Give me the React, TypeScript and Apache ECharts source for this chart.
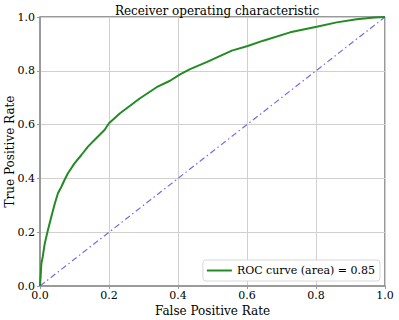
import React, { useEffect, useRef } from "react";
import * as echarts from "echarts";

const fpr = [0, 0.002, 0.004, 0.008, 0.013, 0.015, 0.023, 0.033, 0.043, 0.052, 0.062, 0.071, 0.081, 0.1, 0.12, 0.139, 0.163, 0.187, 0.2, 0.232, 0.29, 0.338, 0.377, 0.406, 0.435, 0.483, 0.556, 0.602, 0.647, 0.725, 0.802, 0.86, 0.918, 0.97, 1.0];
const tpr = [0, 0.04, 0.084, 0.109, 0.152, 0.165, 0.208, 0.258, 0.307, 0.345, 0.369, 0.394, 0.419, 0.456, 0.487, 0.518, 0.549, 0.58, 0.605, 0.642, 0.698, 0.739, 0.763, 0.787, 0.806, 0.832, 0.875, 0.892, 0.912, 0.943, 0.964, 0.98, 0.992, 0.998, 1.0];
const diagonal = [[0, 0], [1, 1]];
const legendLabel = "ROC curve (area) = 0.85";
const titleText = "Receiver operating characteristic";
const xName = "False Positive Rate";
const yName = "True Positive Rate";

const FONT = "DejaVu Serif";

export default function App() {
  const ref = useRef<HTMLDivElement>(null);
  useEffect(() => {
    const chart = echarts.init(ref.current!, null, { renderer: "svg" });
    const axisCommon = {
      type: "value" as const,
      min: 0,
      max: 1,
      interval: 0.2,
      axisLine: { show: true, lineStyle: { color: "#9a9a9a", width: 2 } },
      axisTick: { show: true, length: 3, lineStyle: { color: "#9a9a9a" } },
      axisLabel: { fontFamily: FONT, fontSize: 11, color: "#000", formatter: (v: number) => v.toFixed(1) },
      splitLine: { show: true, lineStyle: { color: "#d0d0d0", width: 1 } },
      nameLocation: "middle" as const,
      nameMoveOverlap: false,
      nameTextStyle: { fontFamily: FONT, fontSize: 12, color: "#000" },
    };
    chart.setOption({
      animation: false,
      title: {
        text: titleText,
        left: 212,
        textAlign: "center",
        top: 0,
        textStyle: { fontFamily: FONT, fontSize: 12, fontWeight: "normal", color: "#000" },
      },
      grid: {
        left: 40, right: 14, top: 17, bottom: 34,
        containLabel: false, outerBoundsMode: "none",
        show: true, borderColor: "#333", borderWidth: 1,
      },
      xAxis: { ...axisCommon, name: xName, nameGap: 19, axisLabel: { ...axisCommon.axisLabel, margin: 4 } },
      yAxis: { ...axisCommon, name: yName, nameGap: 24, axisLabel: { ...axisCommon.axisLabel, margin: 5 } },
      legend: {
        data: [{ name: legendLabel, icon: "rect" }],
        right: 19,
        bottom: 39,
        orient: "vertical",
        backgroundColor: "#fff",
        borderColor: "#d8d8d8",
        borderWidth: 1,
        borderRadius: 3,
        padding: [5, 5, 5, 4],
        itemWidth: 25,
        itemHeight: 2,
        itemGap: 6,
        textStyle: { fontFamily: FONT, fontSize: 11, color: "#000" },
      },
      series: [
        {
          name: "diag",
          type: "line",
          data: diagonal,
          symbol: "none",
          lineStyle: { color: "#7b68ee", width: 1.2, type: [6, 3, 1.5, 3] },
          z: 2,
        },
        {
          name: legendLabel,
          type: "line",
          data: fpr.map((x, i) => [x, tpr[i]]),
          symbol: "none",
          itemStyle: { color: "#228b22" },
          lineStyle: { color: "#228b22", width: 2 },
          z: 3,
        },
      ],
    });
    return () => chart.dispose();
  }, []);
  return <div ref={ref} style={{ width: 399, height: 320, position: "absolute", left: 0, top: 0 }} />;
}
